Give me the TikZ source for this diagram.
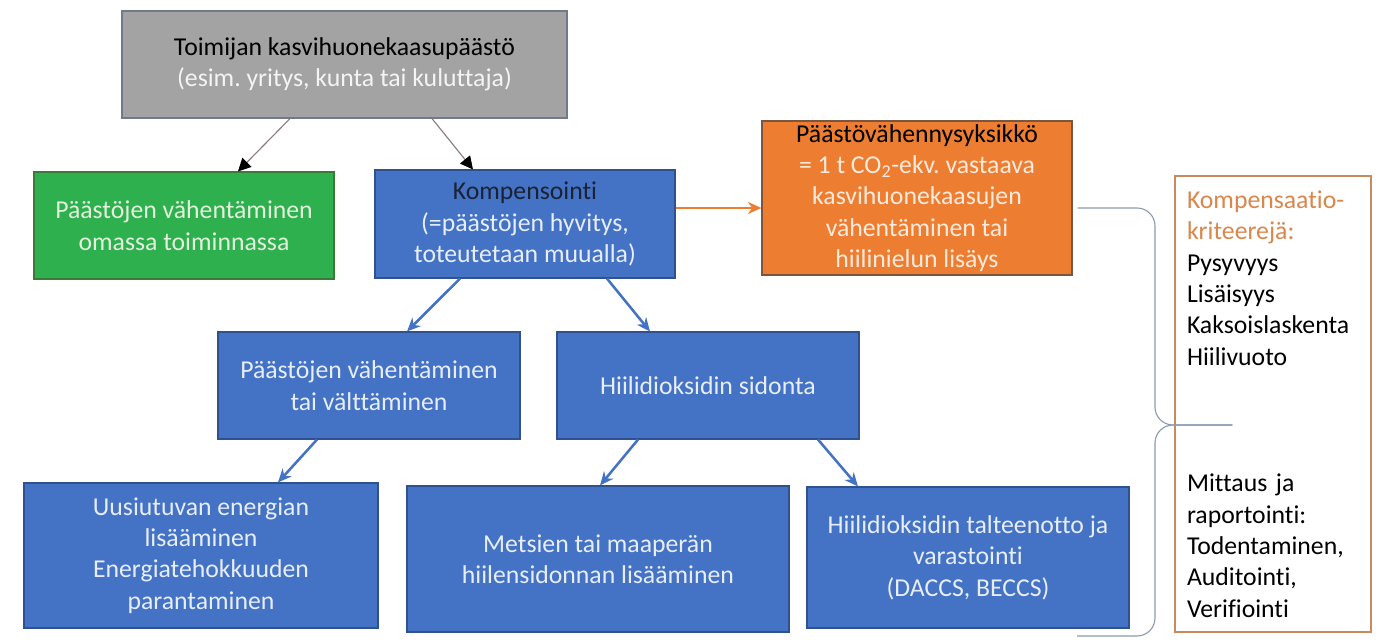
\documentclass[tikz,border=0pt]{standalone}
\usepackage{fontspec}
\setmainfont[Ligatures=NoCommon]{Carlito}
\usetikzlibrary{arrows.meta}
\frenchspacing

\definecolor{boxgray}{HTML}{A3A3A3}
\definecolor{boxgrayline}{HTML}{6F7B8B}
\definecolor{boxgreen}{HTML}{2EB04F}
\definecolor{boxgreenline}{HTML}{3D7A3A}
\definecolor{boxblue}{HTML}{4472C4}
\definecolor{boxblueline}{HTML}{2F528F}
\definecolor{boxorange}{HTML}{ED7D31}
\definecolor{boxorangeline}{HTML}{7A5540}
\definecolor{critline}{HTML}{C98B5E}
\definecolor{crittext}{HTML}{D9874C}
\definecolor{bracegray}{HTML}{8C9BAE}
\definecolor{arrowgray}{HTML}{8A7C7C}
\definecolor{graytext}{HTML}{F4F4F4}
\definecolor{greentext}{HTML}{E3F1DC}
\definecolor{bluetext}{HTML}{E8EEF8}
\definecolor{orangetext}{HTML}{FCEBDD}
\definecolor{darktitle}{HTML}{1A2233}

\tikzset{
  box/.style={draw, line width=0.8pt, align=center, inner sep=0pt},
  graybox/.style={box, fill=boxgray, draw=boxgrayline},
  greenbox/.style={box, fill=boxgreen, draw=boxgreenline, text=greentext},
  bluebox/.style={box, fill=boxblue, draw=boxblueline, text=bluetext},
  orangebox/.style={box, fill=boxorange, draw=boxorangeline, text=orangetext},
  thinarrow/.style={draw=arrowgray, line width=0.8pt,
    -{Triangle[length=0.32cm,width=0.32cm,color=black]}},
  bluearrow/.style={draw=boxblue, line width=1.8pt,
    -{Stealth[length=0.34cm,width=0.3cm]}},
  orangearrow/.style={draw=boxorange, line width=1.6pt,
    -{Stealth[length=0.34cm,width=0.3cm]}},
  bracestyle/.style={draw=bracegray, line width=0.8pt, rounded corners=0.45cm}
}

\begin{document}
\begin{tikzpicture}[font=\fontsize{18.3}{22.3}\selectfont]

\useasboundingbox (0,0) rectangle (34.575,-16);

%%%%%%%%%%%%%%%%%%%%%%%%%%%%%%%%%%%%%%%%%%%%%%%%%%%%%%
% EMITTER
%%%%%%%%%%%%%%%%%%%%%%%%%%%%%%%%%%%%%%%%%%%%%%%%%%%%%%

\node[
graybox,
minimum width=11.125cm,
minimum height=2.675cm
] (emitter) at (8.6125,-1.6125)
{Toimijan kasvihuonekaasupäästö\\
\textcolor{graytext}{(esim. yritys, kunta tai kuluttaja)}};

%%%%%%%%%%%%%%%%%%%%%%%%%%%%%%%%%%%%%%%%%%%%%%%%%%%%%%
% OWN REDUCTION AND COMPENSATION
%%%%%%%%%%%%%%%%%%%%%%%%%%%%%%%%%%%%%%%%%%%%%%%%%%%%%%

\node[
greenbox,
minimum width=7.5cm,
minimum height=2.675cm
] (own) at (4.6,-5.6375)
{Päästöjen vähentäminen\\omassa toiminnassa};

\node[
bluebox,
minimum width=7.5cm,
minimum height=2.7cm
] (komp) at (13.125,-5.6)
{\textcolor{darktitle}{Kompensointi}\\(=päästöjen hyvitys,\\toteutetaan muualla)};

%%%%%%%%%%%%%%%%%%%%%%%%%%%%%%%%%%%%%%%%%%%%%%%%%%%%%%
% UNIT
%%%%%%%%%%%%%%%%%%%%%%%%%%%%%%%%%%%%%%%%%%%%%%%%%%%%%%

\node[
orangebox,
minimum width=7.75cm,
minimum height=3.85cm
] (unit) at (22.925,-4.95)
{\textcolor{black}{Päästövähennysyksikkö}\\
= 1 t CO\textsubscript{2}-ekv. vastaava\\
kasvihuonekaasujen\\
vähentäminen tai\\
hiilinielun lisäys};

%%%%%%%%%%%%%%%%%%%%%%%%%%%%%%%%%%%%%%%%%%%%%%%%%%%%%%
% SECOND LEVEL
%%%%%%%%%%%%%%%%%%%%%%%%%%%%%%%%%%%%%%%%%%%%%%%%%%%%%%

\node[
bluebox,
minimum width=7.55cm,
minimum height=2.675cm
] (reduce) at (9.225,-9.6375)
{Päästöjen vähentäminen\\tai välttäminen};

\node[
bluebox,
minimum width=7.55cm,
minimum height=2.675cm
] (sink) at (17.7,-9.6375)
{Hiilidioksidin sidonta};

%%%%%%%%%%%%%%%%%%%%%%%%%%%%%%%%%%%%%%%%%%%%%%%%%%%%%%
% THIRD LEVEL
%%%%%%%%%%%%%%%%%%%%%%%%%%%%%%%%%%%%%%%%%%%%%%%%%%%%%%

\node[
bluebox,
minimum width=8.85cm,
minimum height=3.625cm
] (renew) at (5.025,-13.8875)
{Uusiutuvan energian\\lisääminen\\Energiatehokkuuden\\parantaminen};

\node[
bluebox,
minimum width=9.55cm,
minimum height=3.65cm
] (forest) at (14.95,-13.975)
{Metsien tai maaperän\\hiilensidonnan lisääminen};

\node[
bluebox,
minimum width=8.05cm,
minimum height=3.525cm
] (ccs) at (24.2,-13.9375)
{Hiilidioksidin talteenotto ja\\varastointi\\(DACCS, BECCS)};

%%%%%%%%%%%%%%%%%%%%%%%%%%%%%%%%%%%%%%%%%%%%%%%%%%%%%%
% CRITERIA
%%%%%%%%%%%%%%%%%%%%%%%%%%%%%%%%%%%%%%%%%%%%%%%%%%%%%%

\node[
draw=critline,
line width=0.8pt,
fill=white,
align=left,
text width=4.3cm,
inner xsep=0.3cm,
inner ysep=0pt,
minimum width=4.9cm,
minimum height=11.4cm
] (criteria) at (31.825,-10.1)
{\textcolor{crittext}{Kompensaatio-}\\
\textcolor{crittext}{kriteerejä:}\\
Pysyvyys\\
Lisäisyys\\
Kaksoislaskenta\\
Hiilivuoto\\[67.7pt]
Mittaus ja\\
raportointi:\\
Todentaminen,\\
Auditointi,\\
Verifiointi};

%%%%%%%%%%%%%%%%%%%%%%%%%%%%%%%%%%%%%%%%%%%%%%%%%%%%%%
% ARROWS
%%%%%%%%%%%%%%%%%%%%%%%%%%%%%%%%%%%%%%%%%%%%%%%%%%%%%%

\draw[thinarrow] ([xshift=-1.3625cm]emitter.south) -- ([xshift=1.35cm]own.north);
\draw[thinarrow] ([xshift=2.1875cm]emitter.south) -- ([xshift=-1.3cm]komp.north);

\draw[orangearrow] ([yshift=0.4cm]komp.east) -- ([yshift=0.4cm]komp.east -| unit.west);

\draw[bluearrow] ([xshift=-1.625cm]komp.south) -- ([xshift=0.95cm]reduce.north);
\draw[bluearrow] ([xshift=2.05cm]komp.south) -- ([xshift=-1.45cm]sink.north);
\draw[bluearrow] ([xshift=-1.3cm]reduce.south) -- ([xshift=1.925cm]renew.north);
\draw[bluearrow] ([xshift=-1.75cm]sink.south) -- ([xshift=0.05cm]forest.north);
\draw[bluearrow] ([xshift=2.75cm]sink.south) -- ([xshift=-2.75cm]ccs.north);

%%%%%%%%%%%%%%%%%%%%%%%%%%%%%%%%%%%%%%%%%%%%%%%%%%%%%%
% BRACE
%%%%%%%%%%%%%%%%%%%%%%%%%%%%%%%%%%%%%%%%%%%%%%%%%%%%%%

\coordinate (braceTop) at ([xshift=0.125cm,yshift=-0.25cm]unit.east);
\coordinate (braceTip) at ([xshift=1.45cm,yshift=-0.525cm]criteria.west);
\coordinate (braceEnd) at (26.925,-15.9);

\draw[bracestyle] (braceTop) -- (braceTop -| 28.875,0) -- (braceTip -| 28.875,0) -- (braceTip);
\draw[bracestyle] (braceTip) -- (braceTip -| 28.875,0) -- (braceEnd -| 28.875,0) -- (braceEnd);

\end{tikzpicture}
\end{document}
